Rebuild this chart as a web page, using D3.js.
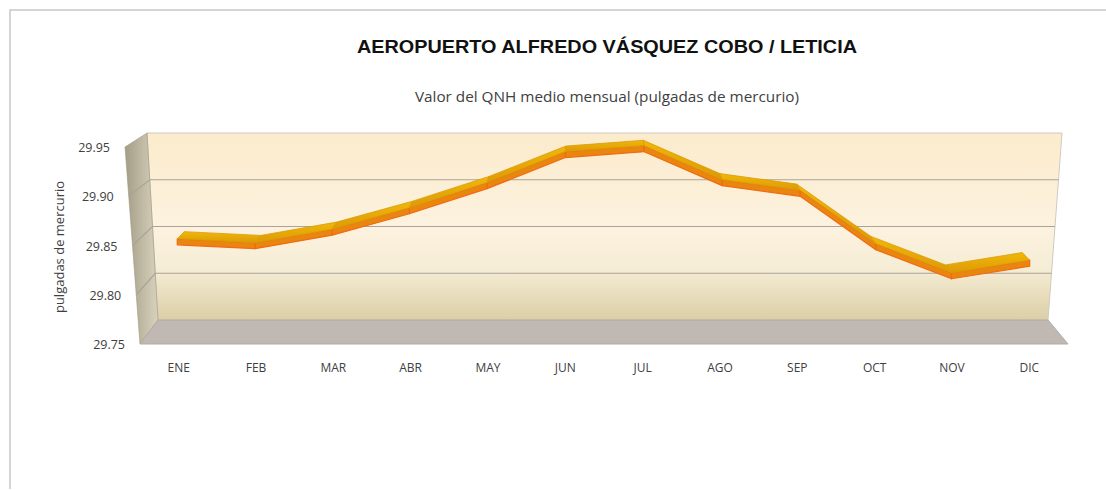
<!DOCTYPE html>
<html>
<head>
<meta charset="utf-8">
<script src="https://cdn.jsdelivr.net/npm/d3@7"></script>
<style>
  body { margin: 0; background: #fff; }
  svg { display: block; }
</style>
</head>
<body>
<svg width="1106" height="490"></svg>
<script>
const months = ["ENE", "FEB", "MAR", "ABR", "MAY", "JUN", "JUL", "AGO", "SEP", "OCT", "NOV", "DIC"];
const qnh = [29.851, 29.847, 29.861, 29.883, 29.909, 29.941, 29.947, 29.912, 29.901, 29.846, 29.816, 29.829];
const yTicks = [29.75, 29.80, 29.85, 29.90, 29.95];

const title = "AEROPUERTO ALFREDO VÁSQUEZ COBO / LETICIA";
const subtitle = "Valor del QNH medio mensual (pulgadas de mercurio)";
const yTitle = "pulgadas de mercurio";

const font = "'Open Sans', 'Liberation Sans', sans-serif";
const svg = d3.select("svg");

// frame
svg.append("path")
    .attr("d", "M10,489 L10,10 L1106,10")
    .attr("fill", "none")
    .attr("stroke", "#c8c8c8")
    .attr("stroke-width", 1.5);

// value scales on the front and back planes of the 3D box
const yFront = d3.scaleLinear().domain([29.75, 29.95]).range([344, 147]);
const yBack = d3.scaleLinear().domain([29.75, 29.95]).range([320, 133]);
// horizontal extent of each plane at bottom / top
const front = {bottom: [140, 1068], top: [125, 1085]};
const back = {bottom: [158, 1048], top: [147, 1062]};

const x = d3.scaleBand().domain(months).range([0, 1]);
const vFrac = d3.scaleLinear().domain([29.75, 29.95]).range([0, 1]);

// project (fraction across, value, depth 0=front..1=back) into pixels
function project(fx, v, depth) {
    const t = vFrac(v);
    const lerp = (a, b, k) => a + (b - a) * k;
    const fl = lerp(front.bottom[0], front.top[0], t), fr = lerp(front.bottom[1], front.top[1], t);
    const bl = lerp(back.bottom[0], back.top[0], t), br = lerp(back.bottom[1], back.top[1], t);
    const px = lerp(lerp(fl, fr, fx), lerp(bl, br, fx), depth);
    const py = lerp(yFront(v), yBack(v), depth);
    return [px, py];
}

const defs = svg.append("defs");
const wallGrad = defs.append("linearGradient").attr("id", "wall")
    .attr("x1", 0).attr("y1", 0).attr("x2", 0).attr("y2", 1);
wallGrad.append("stop").attr("offset", "0%").attr("stop-color", "#fcebcc");
wallGrad.append("stop").attr("offset", "50%").attr("stop-color", "#fcf2df");
wallGrad.append("stop").attr("offset", "72%").attr("stop-color", "#f6edd6");
wallGrad.append("stop").attr("offset", "100%").attr("stop-color", "#dccfa6");

const sideGrad = defs.append("linearGradient").attr("id", "side")
    .attr("x1", 0).attr("y1", 0).attr("x2", 1).attr("y2", 0);
sideGrad.append("stop").attr("offset", "0%").attr("stop-color", "#a49d86");
sideGrad.append("stop").attr("offset", "100%").attr("stop-color", "#d9d2bd");

const ribbonGrad = defs.append("linearGradient").attr("id", "ribbon")
    .attr("x1", 0).attr("y1", 0).attr("x2", 0).attr("y2", 1);
ribbonGrad.append("stop").attr("offset", "0%").attr("stop-color", "#f0b808");
ribbonGrad.append("stop").attr("offset", "100%").attr("stop-color", "#dc9a06");

const [lo, hi] = vFrac.domain();
const poly = pts => "M" + pts.map(p => p.join(",")).join("L") + "Z";

// back wall
svg.append("path")
    .attr("d", poly([project(0, hi, 1), project(1, hi, 1), project(1, lo, 1), project(0, lo, 1)]))
    .attr("fill", "url(#wall)")
    .attr("stroke", "#cfcac0");

// left side wall
svg.append("path")
    .attr("d", poly([project(0, hi, 0), project(0, hi, 1), project(0, lo, 1), project(0, lo, 0)]))
    .attr("fill", "url(#side)")
    .attr("stroke", "#9d977f")
    .attr("stroke-width", 0.6);

// floor
svg.append("path")
    .attr("d", poly([project(0, lo, 0), project(0, lo, 1), project(1, lo, 1), project(1, lo, 0)]))
    .attr("fill", "#bfb8b3")
    .attr("stroke", "#b3aca6");

// gridlines on back wall and side wall
yTicks.slice(1, -1).forEach(v => {
    svg.append("path")
        .attr("d", "M" + [project(0, v, 0), project(0, v, 1), project(1, v, 1)].map(p => p.join(",")).join("L"))
        .attr("fill", "none")
        .attr("stroke", "#a9a497")
        .attr("stroke-width", 1.2);
});

// y tick labels along the front left edge
svg.append("g").selectAll("text")
    .data(yTicks)
    .join("text")
    .attr("x", d => project(0, d, 0)[0] - 15)
    .attr("y", d => project(0, d, 0)[1] + 5)
    .attr("text-anchor", "end")
    .style("font-family", font)
    .style("font-size", "12.5px")
    .style("fill", "#404040")
    .text(d => d.toFixed(2));

// x labels
svg.append("g").selectAll("text")
    .data(months)
    .join("text")
    .attr("x", d => project(x(d) + x.bandwidth() / 2, lo, 0)[0])
    .attr("y", 372)
    .attr("text-anchor", "middle")
    .style("font-family", font)
    .style("font-size", "12px")
    .style("fill", "#404040")
    .text(d => d);

// ribbon line
const fx = months.map(m => x(m) + x.bandwidth() / 2);
const frontPts = qnh.map((v, i) => project(fx[i], v, 0.3));
const backPts = qnh.map((v, i) => project(fx[i], v, 0.68));
const lowPts = frontPts.map(p => [p[0], p[1] + 6]);

for (let i = 0; i < qnh.length - 1; i++) {
    svg.append("path")
        .attr("d", poly([frontPts[i], frontPts[i + 1], lowPts[i + 1], lowPts[i]]))
        .attr("fill", "#e98610")
        .attr("stroke", "#f26a12")
        .attr("stroke-width", 1.2)
        .attr("stroke-linejoin", "round");
}
for (let i = 0; i < qnh.length - 1; i++) {
    svg.append("path")
        .attr("d", poly([backPts[i], backPts[i + 1], frontPts[i + 1], frontPts[i]]))
        .attr("fill", "url(#ribbon)")
        .attr("stroke", "#dc9a08")
        .attr("stroke-width", 0.8)
        .attr("stroke-linejoin", "round");
}

// titles
svg.append("text")
    .attr("x", 607)
    .attr("y", 53)
    .attr("text-anchor", "middle")
    .attr("textLength", 500)
    .attr("lengthAdjust", "spacingAndGlyphs")
    .style("font-family", "'Liberation Sans', Arial, sans-serif")
    .style("font-weight", "bold")
    .style("font-size", "18px")
    .style("fill", "#111")
    .text(title);

svg.append("text")
    .attr("x", 607)
    .attr("y", 102)
    .attr("text-anchor", "middle")
    .style("font-family", font)
    .style("font-size", "15.3px")
    .style("fill", "#404040")
    .text(subtitle);

svg.append("text")
    .attr("transform", "translate(64,247) rotate(-90)")
    .attr("text-anchor", "middle")
    .style("font-family", font)
    .style("font-size", "13px")
    .style("fill", "#404040")
    .text(yTitle);
</script>
</body>
</html>
